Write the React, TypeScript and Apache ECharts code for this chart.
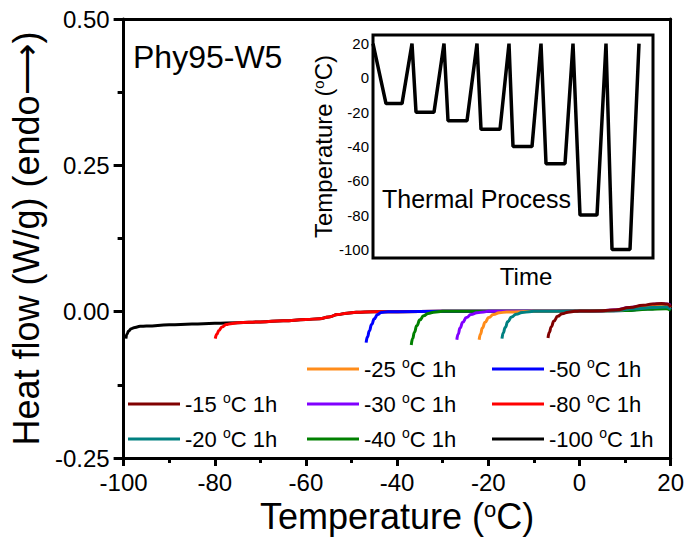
import React, { useEffect, useRef } from "react";
import * as echarts from "echarts";

const FONT = "'Liberation Sans', Arial, Helvetica, sans-serif";

// x-axis ticks (°C) and y-axis ticks (W/g)
const xTicks = [-100, -80, -60, -40, -20, 0, 20];
const yTicks = [-0.25, 0, 0.25, 0.5];

// series names / colors (drawing order: first drawn at bottom)
const names = ["-100 °C 1h", "-80 °C 1h", "-50 °C 1h", "-40 °C 1h", "-30 °C 1h", "-25 °C 1h", "-20 °C 1h", "-15 °C 1h"];
const colors = ["#000000", "#ff0000", "#0000ff", "#008000", "#8000ff", "#ff8c1a", "#008080", "#800000"];

// shared baseline [T, heat flow]
const baseline: [number, number][] = [
  [-95, -0.0245], [-90, -0.0225], [-85, -0.021], [-80, -0.02], [-75, -0.019], [-70, -0.0175],
  [-65, -0.0155], [-60, -0.0135], [-57, -0.012], [-55, -0.009], [-53, -0.005], [-51, -0.0025],
  [-49, -0.001], [-45, 0], [-40, 0], [-30, 0.0005], [-20, 0.0005], [-10, 0.0005], [0, 0.001], [5, 0.0015],
];

// onset segments (start of each heating curve)
const onset100: [number, number][] = [[-99.5, -0.046], [-99.25, -0.038], [-98.9, -0.033], [-98.3, -0.029], [-97.5, -0.027], [-96.4, -0.025]];
const onset80: [number, number][] = [[-79.9, -0.046], [-79.5, -0.038], [-79.1, -0.032], [-78.4, -0.026], [-77.5, -0.022], [-76.5, -0.0205]];
const onset50: [number, number][] = [[-46.8, -0.053], [-46.5, -0.043], [-46.1, -0.033], [-45.6, -0.022], [-45, -0.012], [-44.3, -0.005], [-43.5, -0.0015], [-42, 0]];
const onset40: [number, number][] = [[-36.9, -0.057], [-36.6, -0.046], [-36.2, -0.035], [-35.7, -0.024], [-35, -0.014], [-34.2, -0.007], [-33.2, -0.003], [-32, -0.001]];
const onset30: [number, number][] = [[-26.9, -0.048], [-26.6, -0.038], [-26.2, -0.028], [-25.6, -0.018], [-24.8, -0.01], [-23.8, -0.005], [-22.5, -0.002], [-21, -0.0005]];
const onset25: [number, number][] = [[-22, -0.048], [-21.7, -0.038], [-21.3, -0.028], [-20.7, -0.018], [-19.9, -0.01], [-18.9, -0.005], [-17.6, -0.002], [-16, -0.0005]];
const onset20: [number, number][] = [[-17, -0.046], [-16.7, -0.036], [-16.3, -0.027], [-15.7, -0.017], [-14.9, -0.009], [-13.9, -0.0045], [-12.6, -0.0015], [-11, 0]];
const onset15: [number, number][] = [[-6.9, -0.045], [-6.6, -0.035], [-6.2, -0.026], [-5.6, -0.016], [-4.8, -0.008], [-3.8, -0.0035], [-2.5, -0.001], [-1, 0.0005]];

// endothermic tails near 20 °C
const tail100: [number, number][] = [[10, 0.003], [15, 0.008], [19, 0.01], [20, 0.007]];
const tail80: [number, number][] = [[10, 0.003], [15, 0.007], [19, 0.009], [20, 0.006]];
const tail50: [number, number][] = [[10, 0.002], [15, 0.005], [19, 0.007], [20, 0.004]];
const tail40: [number, number][] = [[10, 0.002], [15, 0.004], [19, 0.005], [20, 0.002]];
const tail30: [number, number][] = [[8, 0.003], [11, 0.007], [14, 0.01], [17, 0.013], [19, 0.013], [20, 0.011]];
const tail25: [number, number][] = [[8, 0.002], [12, 0.006], [16, 0.009], [19, 0.01], [20, 0.007]];
const tail20: [number, number][] = [[8, 0.002], [12, 0.005], [16, 0.007], [19, 0.008], [20, 0.004]];
const tail15: [number, number][] = [[8, 0.003], [11, 0.007], [14, 0.011], [16, 0.013], [18, 0.014], [19.2, 0.013], [20, 0.008]];

const onsets = [onset100, onset80, onset50, onset40, onset30, onset25, onset20, onset15];
const tails = [tail100, tail80, tail50, tail40, tail30, tail25, tail20, tail15];

// inset: thermal process (time in arbitrary units, temperature °C)
const insetTime = [0, 13, 29, 39, 43, 61, 71, 75, 94, 104, 108, 127, 136, 140, 159, 168, 173, 192, 200, 207, 224, 233, 239, 257, 266];
const insetTemp = [20, -15, -15, 20, -20, -20, 20, -25, -25, 20, -30, -30, 20, -40, -40, 20, -50, -50, 20, -80, -80, 20, -100, -100, 20];
const insetTicks = [-100, -80, -60, -40, -20, 0, 20];

const legendCols = [
  ["-15 °C 1h", "-20 °C 1h"],
  ["-25 °C 1h", "-30 °C 1h", "-40 °C 1h"],
  ["-50 °C 1h", "-80 °C 1h", "-100 °C 1h"],
];

function buildSeries(i: number): [number, number][] {
  const on = onsets[i];
  const tl = tails[i];
  const startT = on[on.length - 1][0];
  const endT = tl[0][0];
  const mid = baseline.filter((p) => p[0] > startT + 0.5 && p[0] < endT);
  return [...on, ...mid, ...tl];
}

export default function App() {
  const ref = useRef<HTMLDivElement>(null);
  useEffect(() => {
    if (!ref.current) return;
    const chart = echarts.init(ref.current, null, { renderer: "svg" });
    const legendBase = {
      orient: "vertical",
      padding: 0,
      itemGap: 9,
      itemWidth: 52,
      itemHeight: 3,
      icon: "rect",
      selectedMode: false,
      formatter: (n: string) => n.replace("°", "{sup|o}"),
      textStyle: {
        fontSize: 22,
        fontFamily: FONT,
        color: "#000",
        lineHeight: 26,
        rich: { sup: { fontSize: 14, fontFamily: FONT, color: "#000", verticalAlign: "top", lineHeight: 20 } },
      },
    };
    const option: any = {
      animation: false,
      grid: [
        { left: 120, top: 19, width: 555, height: 439 },
        { left: 373, top: 35, width: 280, height: 223, show: true, borderColor: "#000", borderWidth: 3 },
      ],
      xAxis: [
        {
          type: "value", min: xTicks[0], max: xTicks[xTicks.length - 1], interval: 20,
          axisLine: { show: true, onZero: false, lineStyle: { color: "#000", width: 3 } },
          axisTick: { show: true, length: 8, lineStyle: { color: "#000", width: 3 } },
          minorTick: { show: true, splitNumber: 2, length: 5, lineStyle: { color: "#000", width: 3 } },
          splitLine: { show: true, lineStyle: { opacity: 0 } },
          axisLabel: { fontSize: 24, color: "#000", fontFamily: FONT, margin: 12 },
          name: "Temperature ({sup|o}C)", nameLocation: "middle", nameGap: 40,
          nameTextStyle: { fontSize: 36, fontFamily: FONT, color: "#000", rich: { sup: { fontSize: 22, fontFamily: FONT, color: "#000", verticalAlign: "top" } } },
        },
        {
          gridIndex: 1, type: "value", min: 0, max: 280,
          axisLine: { show: false, onZero: false }, axisTick: { show: false }, axisLabel: { show: false }, splitLine: { show: false },
          name: "Time", nameLocation: "middle", nameGap: 6,
          nameTextStyle: { fontSize: 24, fontFamily: FONT, color: "#000", padding: [0, 0, 0, 26] },
        },
        {
          type: "value", position: "top", min: xTicks[0], max: xTicks[xTicks.length - 1],
          axisLine: { show: true, onZero: false, lineStyle: { color: "#000", width: 3 } },
          axisTick: { show: false }, axisLabel: { show: false }, splitLine: { show: false },
        },
      ],
      yAxis: [
        {
          type: "value", min: yTicks[0], max: yTicks[yTicks.length - 1], interval: 0.25,
          axisLine: { show: true, onZero: false, lineStyle: { color: "#000", width: 3 } },
          axisTick: { show: true, length: 10, lineStyle: { color: "#000", width: 3 } },
          minorTick: { show: true, splitNumber: 2, length: 6, lineStyle: { color: "#000", width: 3 } },
          splitLine: { show: false },
          axisLabel: { fontSize: 24, color: "#000", fontFamily: FONT, margin: 14, formatter: (v: number) => v.toFixed(2) },
          name: "Heat flow (W/g) (endo\u27F6)", nameLocation: "middle", nameGap: 70,
          nameTextStyle: { fontSize: 36, fontFamily: FONT, color: "#000" },
        },
        {
          gridIndex: 1, type: "value", min: -105, max: 25,
          axisLine: { show: false, onZero: false }, axisTick: { show: false }, splitLine: { show: false },
          axisLabel: { fontSize: 15, color: "#000", fontFamily: FONT, margin: 4, customValues: insetTicks, hideOverlap: false },
          name: "Temperature ({sup|o}C)", nameLocation: "middle", nameGap: 35,
          nameTextStyle: { fontSize: 24, fontFamily: FONT, color: "#000", rich: { sup: { fontSize: 15, fontFamily: FONT, color: "#000", verticalAlign: "top" } } },
        },
        {
          type: "value", position: "right", min: yTicks[0], max: yTicks[yTicks.length - 1],
          axisLine: { show: true, onZero: false, lineStyle: { color: "#000", width: 3 } },
          axisTick: { show: false }, axisLabel: { show: false }, splitLine: { show: false },
        },
      ],
      legend: legendCols.map((col, k) => ({
        ...legendBase,
        data: col,
        left: [128, 307, 492][k],
        top: [391, 356, 356][k],
      })),
      series: [
        ...names.map((n, i) => ({
          name: n,
          type: "line",
          data: buildSeries(i),
          color: colors[i],
          showSymbol: false,
          symbol: "none",
          smooth: 0.5,
          smoothMonotone: "x",
          lineStyle: { width: 3, color: colors[i] },
        })),
        {
          name: "Thermal Process",
          type: "line",
          xAxisIndex: 1,
          yAxisIndex: 1,
          data: insetTime.map((t, i) => [t, insetTemp[i]]),
          showSymbol: false,
          symbol: "none",
          lineStyle: { width: 3.5, color: "#000" },
          color: "#000",
        },
      ],
      graphic: [
        { type: "text", x: 133, y: 57, style: { text: "Phy95-W5", fontSize: 32, fontFamily: FONT, fill: "#000", verticalAlign: "middle" } },
        { type: "text", x: 382, y: 199, style: { text: "Thermal Process", fontSize: 25, fontFamily: FONT, fill: "#000", verticalAlign: "middle" } },
      ],
    };
    chart.setOption(option);
    return () => chart.dispose();
  }, []);
  return <div ref={ref} style={{ width: 687, height: 545, position: "absolute", left: 0, top: 0 }} />;
}
